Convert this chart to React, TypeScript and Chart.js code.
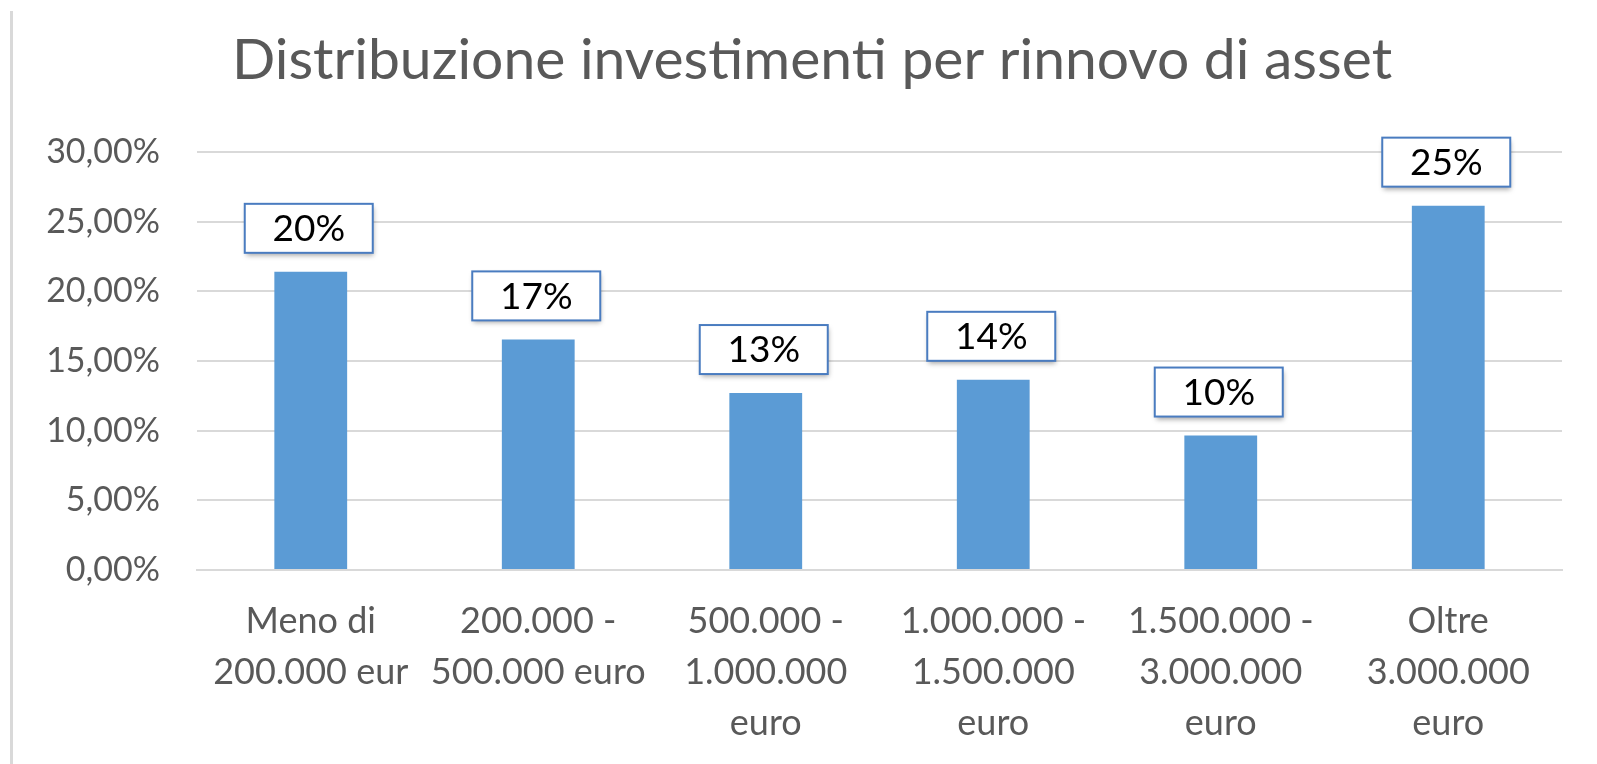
import React, { useEffect, useRef } from "react";
import { Chart, registerables } from "chart.js";

Chart.register(...registerables);

const chartTitle = "Distribuzione investimenti per rinnovo di asset";
const categories: string[][] = [
  ["Meno di", "200.000 eur"],
  ["200.000 -", "500.000 euro"],
  ["500.000 -", "1.000.000", "euro"],
  ["1.000.000 -", "1.500.000", "euro"],
  ["1.500.000 -", "3.000.000", "euro"],
  ["Oltre", "3.000.000", "euro"],
];
const values = [21.4, 16.55, 12.7, 13.65, 9.65, 26.15];
const dataLabels = ["20%", "17%", "13%", "14%", "10%", "25%"];
const yTickValues = [0, 5, 10, 15, 20, 25, 30];
const yTickLabels = ["0,00%", "5,00%", "10,00%", "15,00%", "20,00%", "25,00%", "30,00%"];

const FONT = "Lato, 'Noto Sans', sans-serif";

const labelBoxPlugin = {
  id: "labelBoxes",
  afterDatasetsDraw(chart: any) {
    const ctx = chart.ctx;
    const meta = chart.getDatasetMeta(0);
    const boxW = 128;
    const boxH = 49;
    const gap = 19;
    meta.data.forEach((el: any, i: number) => {
      const cx = el.x - 2;
      const bottom = el.y - gap;
      const left = cx - boxW / 2;
      const top = bottom - boxH;
      ctx.save();
      ctx.shadowColor = "rgba(0,0,0,0.35)";
      ctx.shadowBlur = 5;
      ctx.shadowOffsetX = 1;
      ctx.shadowOffsetY = 3;
      ctx.fillStyle = "#ffffff";
      ctx.fillRect(left, top, boxW, boxH);
      ctx.restore();
      ctx.save();
      ctx.strokeStyle = "#4a7cc0";
      ctx.lineWidth = 2;
      ctx.strokeRect(left, top, boxW, boxH);
      ctx.fillStyle = "#000000";
      ctx.font = `37px ${FONT}`;
      ctx.textAlign = "center";
      ctx.textBaseline = "middle";
      ctx.fillText(dataLabels[i], cx, top + boxH / 2 + 1);
      ctx.restore();
    });
  },
};

// Shift the title box so that it is centred like in the original layout
const titleShiftPlugin = {
  id: "titleShift",
  afterLayout(chart: any) {
    const t = chart.titleBlock;
    if (t) {
      t.left += 35;
    }
  },
};

export default function App() {
  const canvasRef = useRef<HTMLCanvasElement | null>(null);

  useEffect(() => {
    if (!canvasRef.current) return;
    const chart = new Chart(canvasRef.current, {
      type: "bar",
      data: {
        labels: categories,
        datasets: [
          {
            data: values,
            backgroundColor: "#5b9bd5",
            borderWidth: 0,
            barPercentage: 0.32,
            categoryPercentage: 1,
          },
        ],
      },
      options: {
        animation: false,
        responsive: false,
        layout: { padding: { left: 27, right: 35, top: 0, bottom: 0 } },
        plugins: {
          legend: { display: false },
          tooltip: { enabled: false },
          title: {
            display: true,
            text: chartTitle,
            color: "#595959",
            font: { family: FONT, size: 57, weight: "normal", lineHeight: 1.2 },
            padding: { top: 26, bottom: 57.6 },
          },
        },
        scales: {
          x: {
            afterFit: (scale: any) => {
              scale.height = 194;
            },
            grid: { display: false, drawTicks: false },
            border: { display: true, color: "#d9d9d9", width: 2 },
            ticks: {
              color: "#595959",
              font: { family: FONT, size: 36, lineHeight: 1.42 },
              padding: 26,
              maxRotation: 0,
              autoSkip: false,
            },
          },
          y: {
            min: 0,
            max: 30,
            afterBuildTicks: (scale: any) => {
              scale.ticks = yTickValues.map((v) => ({ value: v }));
            },
            afterFit: (scale: any) => {
              scale.width = 170;
            },
            grid: { color: "#d9d9d9", lineWidth: 2, drawTicks: false },
            border: { display: false },
            ticks: {
              color: "#595959",
              font: { family: FONT, size: 34 },
              padding: 37,
              callback: (_v: any, i: number) => yTickLabels[i],
            },
          },
        },
      },
      plugins: [labelBoxPlugin, titleShiftPlugin],
    });
    return () => chart.destroy();
  }, []);

  return (
    <div style={{ position: "fixed", left: 0, top: 0, width: 1597, height: 764, background: "#ffffff" }}>
      <div style={{ position: "absolute", left: 10, top: 11, width: 3, bottom: 0, background: "#d9d9d9" }} />
      <canvas ref={canvasRef} width={1597} height={764} style={{ position: "absolute", left: 0, top: 0 }} />
    </div>
  );
}
